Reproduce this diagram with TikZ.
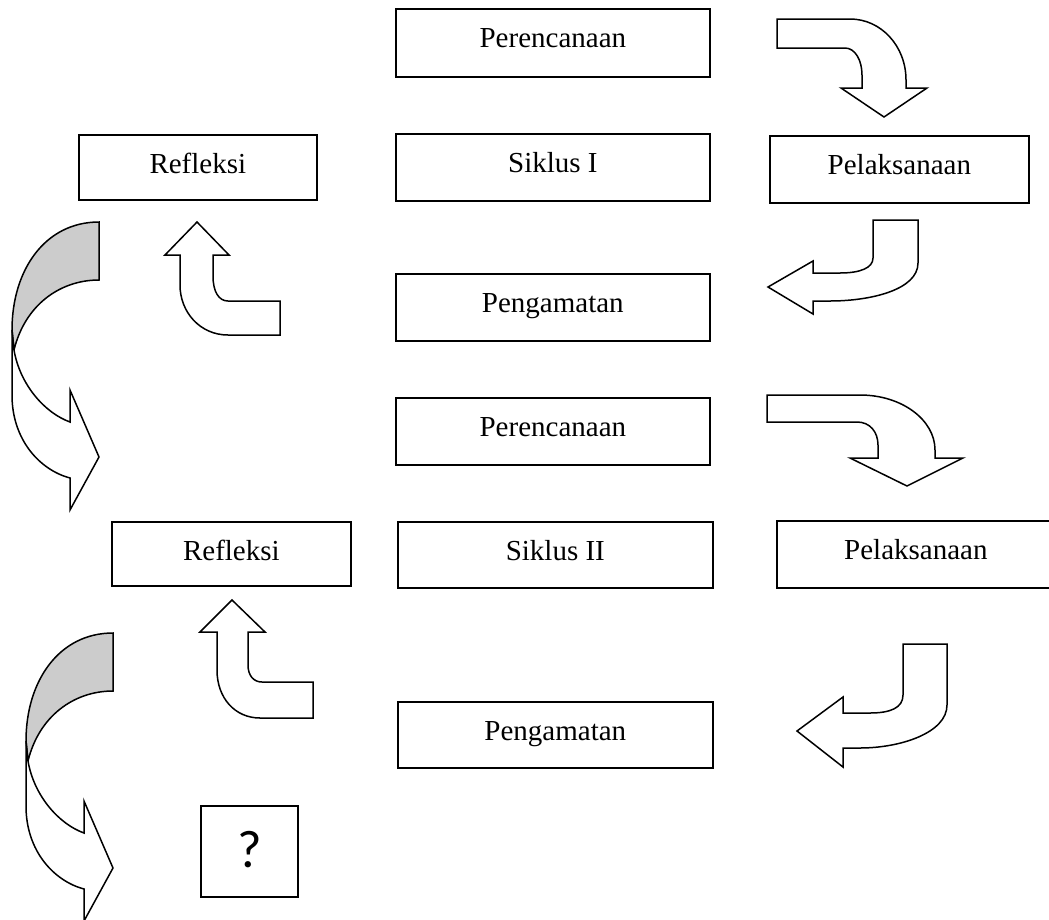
\documentclass[tikz,border=0pt]{standalone}
\usepackage{fontspec}
\setmainfont{Liberation Serif}
\newfontfamily\qfont{Carlito}
\begin{document}
\begin{tikzpicture}[x=1pt,y=-1pt,
  box/.style={draw, line width=1.7pt, inner sep=0pt, anchor=north west,
    text height=39pt, font=\fontsize{29}{34}\selectfont},
  barrow/.style={draw, line width=1.5pt, fill=white, line join=miter},
  backband/.style={draw, line width=1.5pt, fill=black!20, line join=miter},
  pics/curvarrow/.style={code={
    \path[backband] (0,0) .. controls (-54,0) and (-87,48) .. (-87,108)
      -- (-85,128) .. controls (-74,83) and (-39,58) .. (0,58) -- cycle;
    \path[barrow] (-87,108) -- (-87,173) .. controls (-87,218) and (-59,248) .. (-29,256)
      -- (-29,288) -- (0,235) -- (-29,168) -- (-29,200)
      .. controls (-54,191) and (-79,163) .. (-85,128) -- cycle;
  }}]
\useasboundingbox (0,0) rectangle (1049,919);

% boxes
\node[box, minimum width=314pt, text depth=29pt] (per1) at (395,8) {Perencanaan};
\node[box, minimum width=238pt, text depth=26pt] (ref1) at (78,134) {Refleksi};
\node[box, minimum width=314pt, text depth=28pt] (sik1) at (395,133) {Siklus I};
\node[box, minimum width=259pt, text depth=28pt] (pel1) at (769,135) {Pelaksanaan};
\node[box, minimum width=314pt, text depth=28pt] (peng1) at (395,273) {Pengamatan};
\node[box, minimum width=314pt, text depth=28pt] (per2) at (395,397) {Perencanaan};
\node[box, minimum width=239pt, text depth=25pt] (ref2) at (111,521) {Refleksi};
\node[box, minimum width=315pt, text depth=27pt] (sik2) at (397,521) {Siklus II};
\node[box, minimum width=278pt, text depth=28pt] (pel2) at (776,520) {Pelaksanaan};
\node[box, minimum width=315pt, text depth=27pt] (peng2) at (397,701) {Pengamatan};
\node[box, minimum width=97pt, text height=62pt, text depth=29pt,
  font=\qfont\fontsize{53}{60}\selectfont] (q) at (200,805) {?};

% arrow: Perencanaan I -> Pelaksanaan I
\path[barrow] (777,19) -- (850,19) .. controls (881,19) and (906,46) .. (906,80)
  -- (906,88) -- (927,88) -- (884,117) -- (841,88) -- (862,88) -- (862,75)
  .. controls (862,60) and (855,48) .. (845,48) -- (777,48) -- cycle;

% arrow: Pelaksanaan I -> Pengamatan I
\path[barrow] (873,220) -- (918,220) -- (918,263)
  .. controls (918,290) and (870,301) .. (830,301) -- (813,301)
  -- (813,314) -- (768,287) -- (813,261) -- (813,273) -- (840,273)
  .. controls (860,273) and (873,268) .. (873,258) -- cycle;

% arrow: up to Refleksi I
\path[barrow] (197,222) -- (229,255) -- (213,255) -- (213,276)
  .. controls (213,292) and (219,301) .. (228,301) -- (280,301) -- (280,335)
  -- (228,335) .. controls (200,335) and (180,312) .. (180,285)
  -- (180,255) -- (165,255) -- cycle;

% curved arrows on the left
\pic at (99,222) {curvarrow};
\pic at (113,633) {curvarrow};

% arrow: Perencanaan II -> Pelaksanaan II
\path[barrow] (767,395) -- (860,395) .. controls (902,395) and (935,420) .. (935,450)
  -- (935,458) -- (963,458) -- (907,486) -- (850,458) -- (878,458) -- (878,445)
  .. controls (878,432) and (870,422) .. (857,422) -- (767,422) -- cycle;

% arrow: Pelaksanaan II -> Pengamatan II
\path[barrow] (903,644) -- (947,644) -- (947,705)
  .. controls (947,733) and (900,748) .. (860,748) -- (843,748)
  -- (843,767) -- (797,731) -- (843,697) -- (843,713) -- (870,713)
  .. controls (890,713) and (903,708) .. (903,695) -- cycle;

% arrow: up to Refleksi II
\path[barrow] (232,600) -- (265,632) -- (248,632) -- (248,665)
  .. controls (248,676) and (254,682) .. (262,682) -- (313,682) -- (313,718)
  -- (260,718) .. controls (235,718) and (217,698) .. (217,670)
  -- (217,632) -- (200,632) -- cycle;
\end{tikzpicture}
\end{document}
